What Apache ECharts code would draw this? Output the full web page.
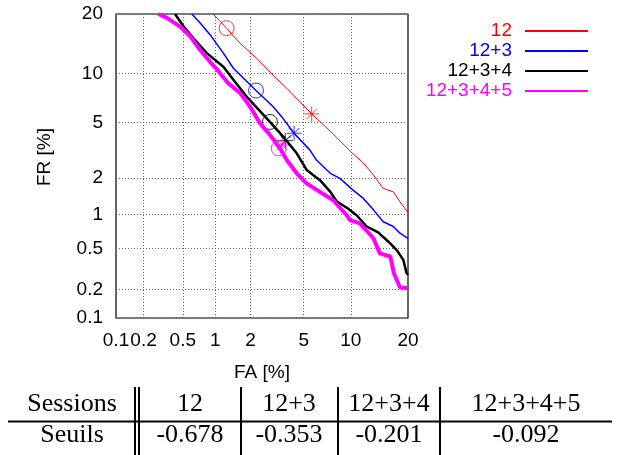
<!DOCTYPE html>
<html>
<head>
<meta charset="utf-8">
<script src="https://cdn.jsdelivr.net/npm/echarts@6.0.0/dist/echarts.min.js"></script>
<style>
  html, body { margin: 0; padding: 0; background: #fff; }
  #chart { width: 619px; height: 455px; }
</style>
</head>
<body>
<div id="chart"></div>
<script>
// ticks (in %)
const tickValues = [0.1, 0.2, 0.5, 1, 2, 5, 10, 20];
const tickLabels = ['0.1', '0.2', '0.5', '1', '2', '5', '10', '20'];

// DET curves: FA [%] / FR [%]
const fa12 = [0.96, 1.26, 1.64, 2.24, 3.0, 3.8, 5.67, 7.8, 10.1, 11.8, 13.4, 15.1, 17.0, 18.3, 20];
const fr12 = [20, 17.2, 14.5, 12.1, 9.8, 8.2, 5.7, 4.2, 3.1, 2.6, 2.1, 1.65, 1.55, 1.29, 1.04];

const fa123 = [0.61, 0.73, 0.90, 1.18, 1.44, 2.21, 3.0, 3.48, 4.28, 5.5, 6.1, 7.5, 8.6, 10.3, 11.8, 13.4, 15.1, 17.0, 18.3, 20];
const fr123 = [20, 18.2, 16.0, 12.9, 10.7, 7.96, 6.35, 5.47, 4.24, 3.24, 2.73, 2.17, 1.98, 1.60, 1.37, 1.10, 0.87, 0.79, 0.69, 0.62];

const fa1234 = [0.42, 0.51, 0.63, 0.84, 1.18, 1.44, 1.86, 2.84, 3.58, 4.47, 5.24, 6.43, 7.5, 8.2, 9.6, 10.8, 12.3, 14.2, 16.0, 17.7, 19.0, 19.7, 20];
const fr1234 = [20, 17.5, 15.4, 12.9, 10.9, 9.2, 7.3, 5.05, 4.0, 3.06, 2.30, 1.92, 1.55, 1.30, 1.13, 0.99, 0.79, 0.70, 0.58, 0.48, 0.39, 0.29, 0.28];

const fa12345 = [0.285, 0.35, 0.47, 0.59, 0.73, 0.90, 1.07, 1.30, 1.64, 1.98, 2.38, 2.84, 3.38, 3.8, 4.47, 5.24, 6.43, 7.8, 9.45, 9.9, 11.3, 13.4, 14.5, 16.4, 17.1, 18.3, 20];
const fr12345 = [20, 19.2, 17.5, 15.7, 13.4, 11.6, 10.3, 8.8, 7.7, 6.35, 4.95, 4.13, 3.33, 2.73, 2.17, 1.81, 1.55, 1.33, 0.99, 0.90, 0.84, 0.62, 0.45, 0.42, 0.29, 0.21, 0.205];

// operating points [FA, FR]: circle, star
const circlePts = [[1.26, 17.2], [2.21, 7.96], [2.84, 5.05], [3.31, 3.33]];
const starPts = [[5.67, 5.7], [4.28, 4.24], [3.70, 3.77], [3.50, 3.51]];

const seriesNames = ['12', '12+3', '12+3+4', '12+3+4+5'];
const colors = ['#ff0000', '#0000ff', '#000000', '#ff00ff'];
const widths = [1, 1.5, 2.5, 4];

// table
const tableHead = ['Sessions', '12', '12+3', '12+3+4', '12+3+4+5'];
const tableRow = ['Seuils', '-0.678', '-0.353', '-0.201', '-0.092'];

// inverse normal (probit) scale
function probit(p) {
  const a = [-3.969683028665376e+01, 2.209460984245205e+02, -2.759285104469687e+02, 1.383577518672690e+02, -3.066479806614716e+01, 2.506628277459239e+00];
  const b = [-5.447609879822406e+01, 1.615858368580409e+02, -1.556989798598866e+02, 6.680131188771972e+01, -1.328068155288572e+01];
  const c = [-7.784894002430293e-03, -3.223964580411365e-01, -2.400758277161838e+00, -2.549732539343734e+00, 4.374664141464968e+00, 2.938163982698783e+00];
  const d = [7.784695709041462e-03, 3.224671290700398e-01, 2.445134137142996e+00, 3.754408661907416e+00];
  const pl = 0.02425;
  let q, r;
  if (p < pl) {
    q = Math.sqrt(-2 * Math.log(p));
    return (((((c[0] * q + c[1]) * q + c[2]) * q + c[3]) * q + c[4]) * q + c[5]) / ((((d[0] * q + d[1]) * q + d[2]) * q + d[3]) * q + 1);
  }
  if (p <= 1 - pl) {
    q = p - 0.5; r = q * q;
    return (((((a[0] * r + a[1]) * r + a[2]) * r + a[3]) * r + a[4]) * r + a[5]) * q / (((((b[0] * r + b[1]) * r + b[2]) * r + b[3]) * r + b[4]) * r + 1);
  }
  q = Math.sqrt(-2 * Math.log(1 - p));
  return -(((((c[0] * q + c[1]) * q + c[2]) * q + c[3]) * q + c[4]) * q + c[5]) / ((((d[0] * q + d[1]) * q + d[2]) * q + d[3]) * q + 1);
}
const pr = (v) => probit(v / 100);
const tickPos = tickValues.map(pr);
function tickLabel(v) {
  let best = 0;
  tickPos.forEach((t, i) => { if (Math.abs(t - v) < Math.abs(tickPos[best] - v)) best = i; });
  return tickLabels[best];
}

const starPath = 'path://M5,0L5,10M0,5L10,5M1.5,1.5L8.5,8.5M8.5,1.5L1.5,8.5';
const curves = [[fa12, fr12], [fa123, fr123], [fa1234, fr1234], [fa12345, fr12345]];

const sansFont = 'Liberation Sans';
const serifFont = 'Liberation Serif';

const series = [];
curves.forEach((cv, i) => {
  series.push({
    name: seriesNames[i],
    type: 'line',
    symbol: 'none',
    clip: true,
    lineStyle: { color: colors[i], width: widths[i] },
    itemStyle: { color: colors[i] },
    data: cv[0].map((x, k) => [pr(x), pr(cv[1][k])]),
  });
  series.push({
    name: seriesNames[i] + ' pts',
    type: 'scatter',
    symbolSize: 15,
    itemStyle: { color: 'none', borderColor: colors[i], borderWidth: 1 },
    data: [
      { value: [pr(circlePts[i][0]), pr(circlePts[i][1])], symbol: 'circle' },
      { value: [pr(starPts[i][0]), pr(starPts[i][1])], symbol: starPath },
    ],
  });
});

// labels and table drawn as graphics
const colCenters = [72, 190, 289, 389, 526];
const graphics = [
  {
    type: 'text', x: 45, y: 157, rotation: Math.PI / 2,
    style: { text: 'FR [%]', fontSize: 19, fontFamily: sansFont, fill: '#000', align: 'center', verticalAlign: 'middle' },
  },
];
tableHead.forEach((t, i) => {
  graphics.push({ type: 'text', x: colCenters[i], y: 404,
    style: { text: t, fontSize: 26, fontFamily: serifFont, fill: '#000', align: 'center', verticalAlign: 'middle' } });
});
tableRow.forEach((t, i) => {
  graphics.push({ type: 'text', x: colCenters[i], y: 435,
    style: { text: t, fontSize: 26, fontFamily: serifFont, fill: '#000', align: 'center', verticalAlign: 'middle' } });
});
[135, 139, 241, 338, 440].forEach((x) => {
  graphics.push({ type: 'line', shape: { x1: x, y1: 387, x2: x, y2: 455 }, style: { stroke: '#000', lineWidth: 2 } });
});
graphics.push({ type: 'line', shape: { x1: 8, y1: 421.5, x2: 612, y2: 421.5 }, style: { stroke: '#000', lineWidth: 2 } });

const myChart = echarts.init(document.getElementById('chart'), null, { renderer: 'canvas' });
myChart.setOption({
  animation: false,
  backgroundColor: '#fff',
  textStyle: { fontFamily: sansFont },
  grid: {
    left: 116, top: 14, width: 292, height: 304,
    show: true, borderColor: '#000', borderWidth: 1.2, containLabel: false,
  },
  legend: {
    orient: 'vertical',
    right: 30,
    top: 21,
    padding: 0,
    align: 'right',
    itemWidth: 63,
    itemHeight: 14,
    itemGap: 0,
    selectedMode: false,
    data: seriesNames.map((n, i) => ({
      name: n,
      textStyle: { color: colors[i] },
      itemStyle: { color: 'transparent', borderColor: 'transparent', borderWidth: 0 },
    })),
    textStyle: { fontSize: 19, lineHeight: 20, fontFamily: sansFont, padding: [0, 8, 0, 0] },
  },
  xAxis: {
    type: 'value',
    min: pr(0.1),
    max: pr(20),
    name: 'FA [%]',
    nameLocation: 'middle',
    nameGap: 45,
    nameTextStyle: { fontSize: 19, color: '#000', fontFamily: sansFont },
    axisLine: { show: false },
    axisTick: { show: false, customValues: tickPos },
    axisLabel: { customValues: tickPos, formatter: tickLabel, fontSize: 19, color: '#000', margin: 13, fontFamily: sansFont },
    splitLine: { show: true, lineStyle: { color: '#666', type: [1, 2], width: 1 } },
  },
  yAxis: {
    type: 'value',
    min: pr(0.1),
    max: pr(20),
    axisLine: { show: false },
    axisTick: { show: false, customValues: tickPos },
    axisLabel: { customValues: tickPos, formatter: tickLabel, fontSize: 19, color: '#000', margin: 13, fontFamily: sansFont },
    splitLine: { show: true, lineStyle: { color: '#666', type: [1, 2], width: 1 } },
  },
  graphic: graphics,
  series: series,
});
</script>
</body>
</html>
